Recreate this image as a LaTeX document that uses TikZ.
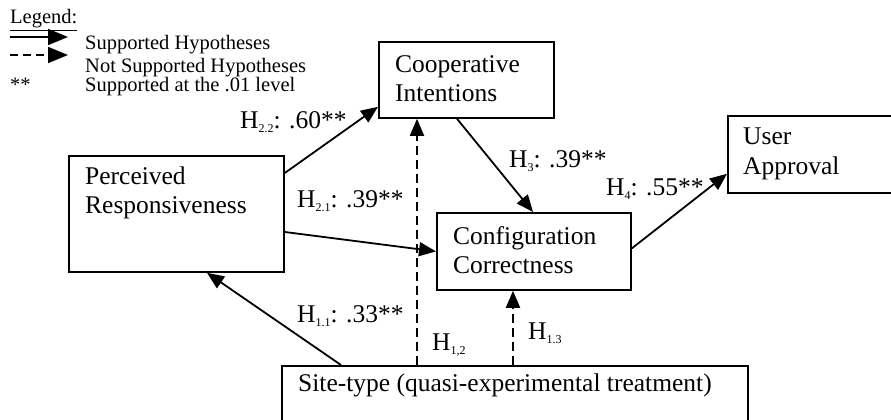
\documentclass[tikz,border=0pt]{standalone}
\usepackage{fontspec}
\setmainfont{Liberation Serif}
\usetikzlibrary{arrows.meta,calc}
\newcommand\hsb[1]{\raisebox{-0.4ex}{\fontsize{12}{12}\selectfont #1}}
\begin{document}
\begin{tikzpicture}[x=1pt,y=-1pt,
 box/.style={draw,line width=1.8pt,rectangle,inner sep=0pt,anchor=north west},
 txt/.style={anchor=west,inner sep=0pt,align=left,font=\fontsize{25.5}{29.5}\selectfont},
 lab/.style={anchor=base west,inner sep=0pt,font=\fontsize{25.5}{29.5}\selectfont},
 leg/.style={anchor=base west,inner sep=0pt,font=\fontsize{20.5}{22}\selectfont},
 sup/.style={line width=1.8pt,-{Triangle[length=17pt,width=14pt]}},
 nsup/.style={sup,dash pattern=on 9pt off 5pt},
 legsup/.style={line width=1.8pt,-{Triangle[length=20pt,width=16pt]}},
 legnsup/.style={legsup,dash pattern=on 8pt off 5pt},
]
\useasboundingbox (0,0) rectangle (891,420);
\clip (0,0) rectangle (891,420);

% legend
\node[leg] (legt) at (10,24) {\underline{Legend:}};
\coordinate (ls1) at (10,37); \coordinate (le1) at (68,37);
\coordinate (ls2) at (10,55); \coordinate (le2) at (68,55);
\draw[legsup] (ls1) -- (le1);
\draw[legnsup] (ls2) -- (le2);
\node[leg] (leg1) at (85,49) {Supported Hypotheses};
\node[leg] (leg2) at (85,72) {Not Supported Hypotheses};
\node[leg] (leg3s) at (10,92) {**};
\node[leg] (leg3) at (85,92) {Supported at the .01 level};

% boxes
\node[box,minimum width=175,minimum height=76] (coop) at (378,41) {};
\node[box,minimum width=215,minimum height=116] (perc) at (68,155) {};
\node[box,minimum width=194,minimum height=77] (config) at (436,212) {};
\node[box,minimum width=200,minimum height=77] (user) at (727,115) {};
\node[box,minimum width=466,minimum height=100] (site) at (281,365) {};

% box texts
\node[txt] (coopt) at (395,78.5) {Cooperative\\Intentions};
\node[txt] (perct) at (85,193) {Perceived\\Responsiveness};
\node[txt] (configt) at (453,250) {Configuration\\Correctness};
\node[txt] (usert) at (743,154) {User\\Approval};
\node[txt] (sitet) at (298,385) {Site-type (quasi-experimental treatment)};

% connectors
\draw[sup] ($(site.north west)+(60,0)$) -- ($(perc.south west)+(139,0)$);
\draw[sup] ($(perc.north east)+(0,77)$) -- (config.west);
\draw[sup] ($(perc.north east)+(0,18)$) -- ($(coop.south west)+(0,-12)$);
\draw[nsup] ($(site.north west)+(136,0)$) coordinate (a) -- (a |- coop.south);
\draw[nsup] ($(site.north west)+(232,0)$) coordinate (b) -- (b |- config.south);
\draw[sup] ($(coop.south west)+(79,0)$) -- ($(config.north west)+(97,0)$);
\draw[sup] ($(config.east)+(0,-3)$) -- ($(user.south west)+(0,-20)$);

% labels
\node[lab] (h22) at (240,128) {H\hsb{2.2}: .60**};
\node[lab] (h21) at (297,207) {H\hsb{2.1}: .39**};
\node[lab] (h11) at (297,322) {H\hsb{1.1}: .33**};
\node[lab] (h12) at (432,350) {H\hsb{1,2}};
\node[lab] (h13) at (528,339) {H\hsb{1.3}};
\node[lab] (h3) at (509,167) {H\hsb{3}: .39**};
\node[lab] (h4) at (606,195) {H\hsb{4}: .55**};
\end{tikzpicture}
\end{document}
